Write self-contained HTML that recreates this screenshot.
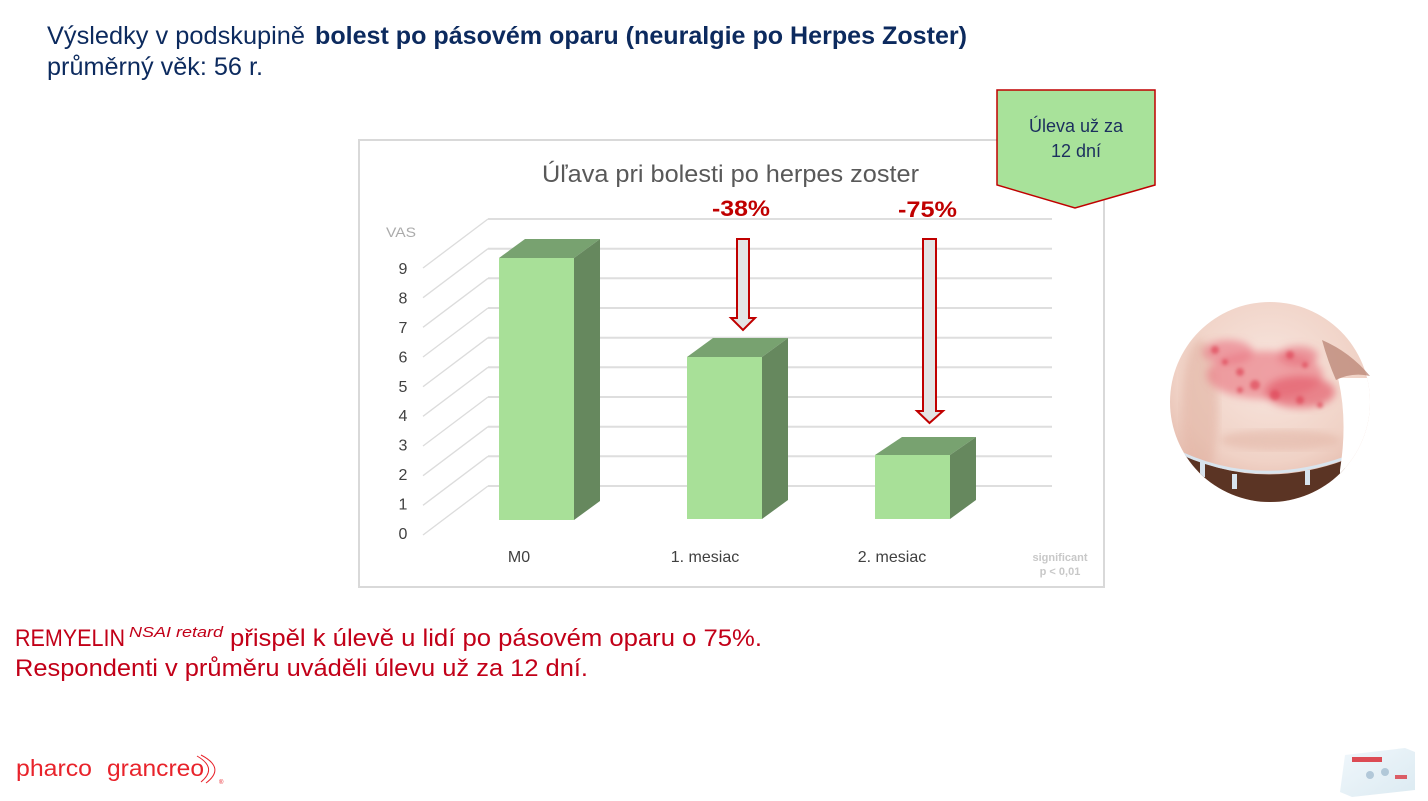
<!DOCTYPE html>
<html><head><meta charset="utf-8"><style>
html,body{margin:0;padding:0;background:#fff;}
svg{display:block;}
text{font-family:"Liberation Sans","DejaVu Sans",sans-serif;}
</style></head><body>
<svg width="1428" height="801" viewBox="0 0 1428 801" xmlns="http://www.w3.org/2000/svg">
<defs>
  <clipPath id="circ"><circle cx="1270" cy="402" r="100"/></clipPath>
  <radialGradient id="skin" cx="0.5" cy="0.35" r="0.7">
    <stop offset="0" stop-color="#f8e6df"/>
    <stop offset="0.6" stop-color="#f0d2c6"/>
    <stop offset="1" stop-color="#dca898"/>
  </radialGradient>
  <filter id="blur3"><feGaussianBlur stdDeviation="4"/></filter>
  <filter id="blur1"><feGaussianBlur stdDeviation="1.5"/></filter>
  <linearGradient id="box" x1="0" y1="0" x2="1" y2="1">
    <stop offset="0" stop-color="#eef6fb"/>
    <stop offset="1" stop-color="#d8e8f0"/>
  </linearGradient>
</defs>

<!-- Heading -->
<text x="47" y="44" font-size="25" fill="#0c2a5e" textLength="258" lengthAdjust="spacingAndGlyphs">Výsledky v podskupině</text>
<text x="315" y="44" font-size="25" font-weight="bold" fill="#0c2a5e" textLength="652" lengthAdjust="spacingAndGlyphs">bolest po pásovém oparu (neuralgie po Herpes Zoster)</text>
<text x="47" y="75" font-size="25" fill="#0c2a5e" textLength="216" lengthAdjust="spacingAndGlyphs">průměrný věk: 56 r.</text>

<!-- Chart frame -->
<rect x="359" y="140" width="745" height="447" fill="#fff" stroke="#d9d9d9" stroke-width="2"/>

<!-- Chart title -->
<text x="542" y="182" font-size="24" fill="#595959" textLength="377" lengthAdjust="spacingAndGlyphs">Úľava pri bolesti po herpes zoster</text>

<!-- gridlines -->
<g stroke="#dedede" stroke-width="2" fill="none">
  <line x1="488" y1="486" x2="1052" y2="486"/>
  <line x1="488" y1="456.3" x2="1052" y2="456.3"/>
  <line x1="488" y1="426.7" x2="1052" y2="426.7"/>
  <line x1="488" y1="397" x2="1052" y2="397"/>
  <line x1="488" y1="367.3" x2="1052" y2="367.3"/>
  <line x1="488" y1="337.7" x2="1052" y2="337.7"/>
  <line x1="488" y1="308" x2="1052" y2="308"/>
  <line x1="488" y1="278.3" x2="1052" y2="278.3"/>
  <line x1="488" y1="248.7" x2="1052" y2="248.7"/>
  <line x1="488" y1="219" x2="1052" y2="219"/>
</g>
<g stroke="#dcdcdc" stroke-width="1.3" fill="none">
  <line x1="423" y1="535" x2="488" y2="486"/>
  <line x1="423" y1="505.3" x2="488" y2="456.3"/>
  <line x1="423" y1="475.7" x2="488" y2="426.7"/>
  <line x1="423" y1="446" x2="488" y2="397"/>
  <line x1="423" y1="416.3" x2="488" y2="367.3"/>
  <line x1="423" y1="386.7" x2="488" y2="337.7"/>
  <line x1="423" y1="357" x2="488" y2="308"/>
  <line x1="423" y1="327.3" x2="488" y2="278.3"/>
  <line x1="423" y1="297.7" x2="488" y2="248.7"/>
  <line x1="423" y1="268" x2="488" y2="219"/>
</g>

<!-- Y labels -->
<text x="386" y="237" font-size="14" fill="#ababab" textLength="30" lengthAdjust="spacingAndGlyphs">VAS</text>
<g font-size="16" fill="#404040" text-anchor="middle">
  <text x="403" y="274">9</text>
  <text x="403" y="303.5">8</text>
  <text x="403" y="333">7</text>
  <text x="403" y="362.5">6</text>
  <text x="403" y="392">5</text>
  <text x="403" y="421">4</text>
  <text x="403" y="450.5">3</text>
  <text x="403" y="480">2</text>
  <text x="403" y="509.5">1</text>
  <text x="403" y="539">0</text>
</g>

<!-- Bars -->
<g>
  <polygon points="499,258 574,258 600,239 525,239" fill="#78a270"/>
  <polygon points="574,258 600,239 600,501 574,520" fill="#66885e"/>
  <rect x="499" y="258" width="75" height="262" fill="#a8e098"/>

  <polygon points="687,357 762,357 788,338 713,338" fill="#78a270"/>
  <polygon points="762,357 788,338 788,500 762,519" fill="#66885e"/>
  <rect x="687" y="357" width="75" height="162" fill="#a8e098"/>

  <polygon points="875,455 950,455 976,437 902,437" fill="#78a270"/>
  <polygon points="950,455 976,437 976,500 950,519" fill="#66885e"/>
  <rect x="875" y="455" width="75" height="64" fill="#a8e098"/>
</g>

<!-- Arrows -->
<polygon points="737,239 749,239 749,318 755,318 743,330 731,318 737,318" fill="#e4e4e4" stroke="#c00000" stroke-width="2" stroke-linejoin="miter"/>
<polygon points="923,239 936,239 936,411 943,411 929.5,423 917,411 923,411" fill="#e4e4e4" stroke="#c00000" stroke-width="2" stroke-linejoin="miter"/>

<!-- Percent labels -->
<text x="712" y="216" font-size="22" font-weight="bold" fill="#c00000" textLength="58" lengthAdjust="spacingAndGlyphs">-38%</text>
<text x="898" y="217" font-size="22" font-weight="bold" fill="#c00000" textLength="59" lengthAdjust="spacingAndGlyphs">-75%</text>

<!-- X labels -->
<g font-size="16" fill="#404040" text-anchor="middle">
  <text x="519" y="562">M0</text>
  <text x="705" y="562">1. mesiac</text>
  <text x="892" y="562">2. mesiac</text>
</g>
<g font-size="11" font-weight="bold" fill="#c8c8c8" text-anchor="middle">
  <text x="1060" y="561">significant</text>
  <text x="1060" y="575">p &lt; 0,01</text>
</g>

<!-- Callout -->
<polygon points="997,90 1155,90 1155,185 1075,208 997,185" fill="#a8e29a" stroke="#c00000" stroke-width="1.5"/>
<g font-size="18" fill="#1c2f5e" text-anchor="middle">
  <text x="1076" y="132">Úleva už za</text>
  <text x="1076" y="157">12 dní</text>
</g>

<!-- Photo -->
<g clip-path="url(#circ)">
  <rect x="1160" y="300" width="220" height="210" fill="url(#skin)"/>
  <ellipse cx="1200" cy="410" rx="18" ry="70" fill="#e2b4a4" opacity="0.6" filter="url(#blur3)"/>
  <ellipse cx="1280" cy="440" rx="60" ry="10" fill="#e0b0a0" opacity="0.5" filter="url(#blur3)"/>
  <g filter="url(#blur3)">
    <ellipse cx="1265" cy="375" rx="58" ry="24" fill="#ea7a84" opacity="0.65"/>
    <ellipse cx="1300" cy="392" rx="35" ry="16" fill="#e45e6c" opacity="0.7"/>
    <ellipse cx="1228" cy="352" rx="25" ry="12" fill="#ea7280" opacity="0.6"/>
    <ellipse cx="1298" cy="356" rx="20" ry="10" fill="#e66a78" opacity="0.6"/>
  </g>
  <g filter="url(#blur1)" fill="#e04a5a" opacity="0.7">
    <circle cx="1215" cy="350" r="4"/><circle cx="1225" cy="362" r="3"/>
    <circle cx="1240" cy="372" r="4"/><circle cx="1255" cy="385" r="5"/>
    <circle cx="1275" cy="395" r="5"/><circle cx="1300" cy="400" r="4"/>
    <circle cx="1320" cy="405" r="3"/><circle cx="1290" cy="355" r="4"/>
    <circle cx="1305" cy="365" r="3"/><circle cx="1240" cy="390" r="3"/>
  </g>
  <path d="M1165,445 Q1250,495 1345,460 L1345,520 L1165,520 Z" fill="#5b3424"/>
  <path d="M1165,445 Q1250,492 1345,458" stroke="#d8e4ee" stroke-width="3" fill="none"/>
  <rect x="1200" y="462" width="5" height="15" fill="#d8e4ee"/>
  <rect x="1232" y="474" width="5" height="15" fill="#d8e4ee"/>
  <rect x="1305" y="470" width="5" height="15" fill="#d8e4ee"/>
  <!-- white area right of torso -->
  <path d="M1338,378 Q1348,420 1340,470 L1340,520 L1380,520 L1380,378 Z" fill="#fff"/>
</g>
<!-- arm/shoulder at top-right -->
<path d="M1322,340 Q1350,352 1370,376 Q1352,372 1336,380 Q1328,362 1322,340 Z" fill="#b98474" opacity="0.75"/>

<!-- Red statement -->
<text x="15" y="646" font-size="24" fill="#c20018" textLength="110" lengthAdjust="spacingAndGlyphs">REMYELIN</text>
<text x="129" y="637" font-size="15" font-style="italic" fill="#c20018" textLength="94" lengthAdjust="spacingAndGlyphs">NSAI retard</text>
<text x="230" y="646" font-size="24" fill="#c20018" textLength="532" lengthAdjust="spacingAndGlyphs">přispěl k úlevě u lidí po pásovém oparu  o 75%.</text>
<text x="15" y="676" font-size="24" fill="#c20018" textLength="573" lengthAdjust="spacingAndGlyphs">Respondenti v průměru uváděli úlevu už za 12 dní.</text>

<!-- Logo -->
<text x="16" y="776" font-size="23" fill="#e8232b" textLength="76" lengthAdjust="spacingAndGlyphs">pharco</text>
<text x="107" y="776" font-size="23" fill="#e8232b" textLength="97" lengthAdjust="spacingAndGlyphs">grancreo</text>
<g fill="none" stroke="#e8232b" stroke-width="1">
  <path d="M197,756 Q218,768 201,782"/>
  <path d="M201,755 Q226,768 206,783"/>
</g>
<text x="219" y="784" font-size="6" fill="#e8232b">®</text>

<!-- Product box -->
<g>
  <polygon points="1345,755 1405,748 1415,752 1415,790 1352,797 1340,792" fill="url(#box)" opacity="0.9"/>
  <rect x="1352" y="757" width="30" height="5" fill="#d8202a" opacity="0.8"/>
  <circle cx="1370" cy="775" r="4" fill="#9bb7cc" opacity="0.7"/>
  <circle cx="1385" cy="772" r="4" fill="#9bb7cc" opacity="0.7"/>
  <rect x="1395" y="775" width="12" height="4" fill="#d8202a" opacity="0.7"/>
</g>
</svg>
</body></html>
